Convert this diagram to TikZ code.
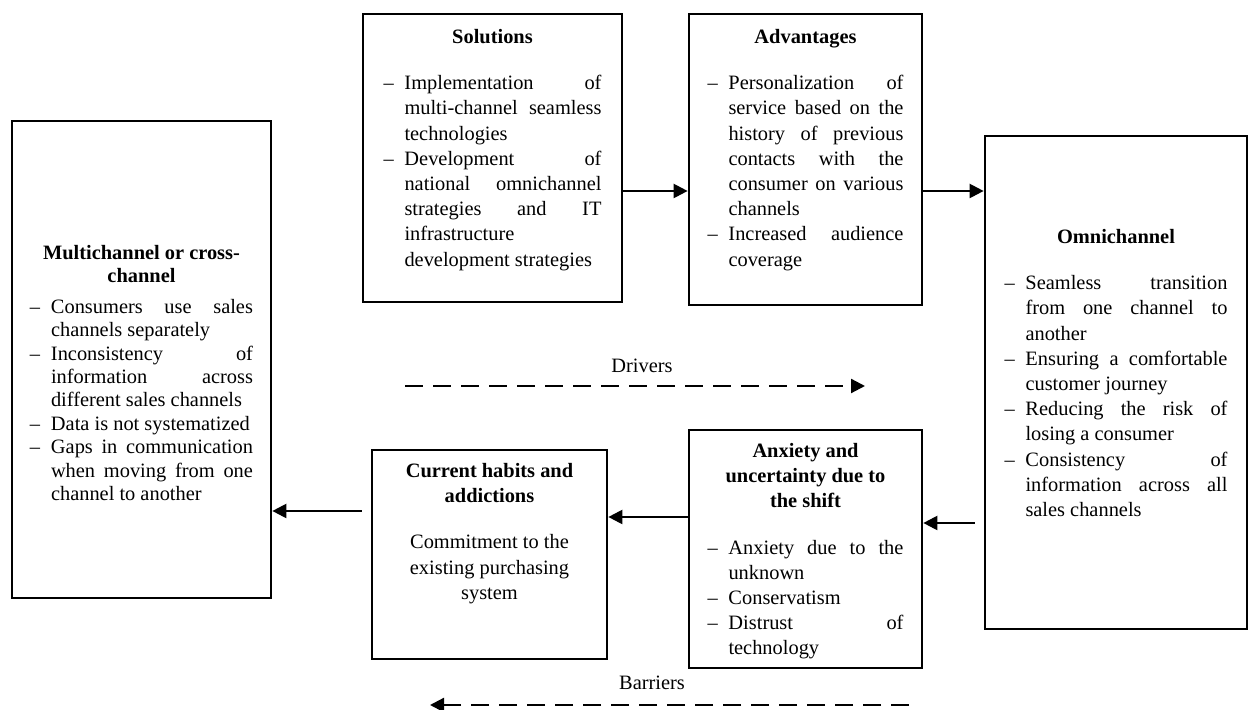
\documentclass[tikz,border=0pt]{standalone}
\usepackage{fontspec}
\setmainfont{Liberation Serif}
\usetikzlibrary{arrows.meta,calc}
\tolerance=10000 \hbadness=10000 \hyphenpenalty=10000 \exhyphenpenalty=10000
\newcommand{\ttl}[2][10.5pt]{{\centering\bfseries #2\par}\vspace{#1}}
\newcommand{\itm}[1]{\par\noindent\hangindent=10.5pt\hangafter=1\makebox[10.5pt][l]{\textendash}#1\par}
\tikzset{
	panel/.style={draw, line width=1.35pt, inner sep=0pt},
	body/.style={inner sep=0pt, anchor=north, align=justify, font=\fontsize{10.2}{12.6}\selectfont},
	conn/.style={-{Triangle[length=7pt,width=7pt]}, line width=1.1pt},
	flow/.style={conn, dash pattern=on 9pt off 5pt}
}
\begin{document}
\begin{tikzpicture}[x=0.5pt, y=-0.5pt]
			\useasboundingbox (0,0) rectangle (1250,710);

			% Draw the boxes
			\node[panel, minimum width=129.5pt, minimum height=238.5pt] (multi) at (141.5,359.5) {};
			\node[panel, minimum width=129.5pt, minimum height=144pt] (sol) at (492.5,158) {};
			\node[panel, minimum width=116.5pt, minimum height=145.5pt] (adv) at (805.5,159.5) {};
			\node[panel, minimum width=131pt, minimum height=246.5pt] (omni) at (1116,382.5) {};
			\node[panel, minimum width=116.5pt, minimum height=119pt] (anx) at (805.5,549) {};
			\node[panel, minimum width=117.5pt, minimum height=104.5pt] (cur) at (489.5,554.5) {};

			% Texts in the boxes
			\node[body, text width=111.5pt, font=\fontsize{10.2}{11.7}\selectfont] (multitxt) at (141.5,245) {
				\ttl[3.5pt]{Multichannel or cross-\\channel}
				\itm{Consumers use sales\linebreak channels separately}
				\itm{Inconsistency of\linebreak information across\linebreak different sales channels}
				\itm{Data is not systematized}
				\itm{Gaps in communication\linebreak when moving from one\linebreak channel to another}};
			\node[body, text width=109pt] (soltxt) at (492.5,29) {
				\ttl{Solutions}
				\itm{Implementation of\linebreak multi-channel seamless\linebreak technologies}
				\itm{Development of\linebreak national omnichannel\linebreak strategies and IT\linebreak infrastructure\linebreak development strategies}};
			\node[body, text width=98pt] (advtxt) at (805.5,29) {
				\ttl{Advantages}
				\itm{Personalization of\linebreak service based on the\linebreak history of previous\linebreak contacts with the\linebreak consumer on various\linebreak channels}
				\itm{Increased audience\linebreak coverage}};
			\node[body, text width=111.5pt] (omnitxt) at (1116,229) {
				\ttl{Omnichannel}
				\itm{Seamless transition\linebreak from one channel to\linebreak another}
				\itm{Ensuring a comfortable\linebreak customer journey}
				\itm{Reducing the risk of\linebreak losing a consumer}
				\itm{Consistency of\linebreak information across all\linebreak sales channels}};
			\node[body, text width=98pt] (anxtxt) at (805.5,443) {
				\ttl{Anxiety and\\uncertainty due to\\the shift}
				\itm{Anxiety due to the\linebreak unknown}
				\itm{Conservatism}
				\itm{Distrust of\linebreak technology}};
			\node[body, text width=100pt] (curtxt) at (489.5,463) {
				\ttl{Current habits and\\addictions}
				{\centering Commitment to the\\existing purchasing\\system\par}};

			% Draw the arrows between the boxes
			\coordinate (ya) at (0,191);
			\coordinate (yb) at (0,523);
			\coordinate (yc) at (0,517);
			\coordinate (yd) at (0,511);
			\draw[conn] (sol.east |- ya) -- (adv.west |- ya);
			\draw[conn] (adv.east |- ya) -- (omni.west |- ya);
			\draw[conn] ($(omni.west |- yb)+(-9,0)$) -- (anx.east |- yb);
			\draw[conn] (anx.west |- yc) -- (cur.east |- yc);
			\draw[conn] ($(cur.west |- yd)+(-9,0)$) -- (multi.east |- yd);

			% Drivers and barriers
			\node[font=\fontsize{10.2}{12.6}\selectfont] (drv) at (642,366) {Drivers};
			\coordinate (drvA) at (405,386);
			\coordinate (drvB) at (865,386);
			\draw[flow] (drvA) -- (drvB);
			\node[font=\fontsize{10.2}{12.6}\selectfont] (bar) at (652,683) {Barriers};
			\coordinate (barA) at (909,705);
			\coordinate (barB) at (430,705);
			\draw[flow] (barA) -- (barB);
		\end{tikzpicture}
\end{document}
